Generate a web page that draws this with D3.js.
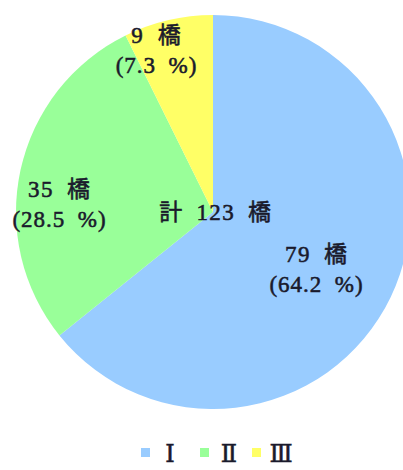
<!DOCTYPE html>
<html>
<head>
<meta charset="utf-8">
<script src="https://cdn.jsdelivr.net/npm/d3@7"></script>
<style>
  html, body { margin: 0; padding: 0; background: #ffffff; }
  svg { display: block; }
  text { font-family: "Liberation Serif", "Times New Roman", "DejaVu Serif", "Noto Sans CJK JP", serif; fill: #1a1a2c; stroke: #1a1a2c; stroke-width: 0.55px; }
</style>
</head>
<body>
<svg id="chart" width="403" height="470"></svg>
<script>
// Bridge counts by soundness rank
const categories = ["Ⅰ", "Ⅱ", "Ⅲ"];
const counts = [79, 35, 9];
const percents = ["64.2", "28.5", "7.3"];
const colors = ["#99ccff", "#99ff99", "#ffff66"];
const totalLabel = "計\u2002123\u2002橋";

const svg = d3.select("#chart");
const cx = 213, cy = 212, radius = 197;

const pie = d3.pie().sort(null).value(d => d.value);
const arc = d3.arc().innerRadius(0).outerRadius(radius);

const data = categories.map((c, i) => ({ cat: c, value: counts[i], pct: percents[i], color: colors[i] }));
const arcs = pie(data);

const g = svg.append("g").attr("transform", `translate(${cx},${cy})`);

g.selectAll("path.slice")
  .data(arcs)
  .join("path")
  .attr("class", "slice")
  .attr("d", arc)
  .attr("fill", d => d.data.color);

// widen glyph spacing a little for the label texts
function spread(sel, k) {
  sel.each(function () {
    const w = this.getComputedTextLength();
    d3.select(this).attr("textLength", w * k).attr("lengthAdjust", "spacing");
  });
}

// label anchor offsets from the pie centre, one per slice
const labelOffsets = [[103, 50], [-154, -15], [-57, -169]];

const lbl = g.selectAll("g.lbl")
  .data(arcs)
  .join("g")
  .attr("class", "lbl")
  .attr("transform", (d, i) => `translate(${labelOffsets[i][0]},${labelOffsets[i][1]})`);

lbl.append("text")
  .attr("class", "lab")
  .attr("text-anchor", "middle")
  .attr("y", 0)
  .attr("font-size", 23)
  .text(d => d.data.value + "\u2002橋");

lbl.append("text")
  .attr("class", "lab")
  .attr("text-anchor", "middle")
  .attr("y", 30)
  .attr("font-size", 23)
  .text(d => "(" + d.data.pct + "\u2002%)");

g.append("text")
  .attr("class", "lab")
  .attr("text-anchor", "middle")
  .attr("x", 2)
  .attr("y", 8)
  .attr("font-size", 23)
  .text(totalLabel);

spread(svg.selectAll("text.lab"), 1.08);

// legend
const legend = svg.append("g").attr("transform", "translate(0,453)");
const legX = [145, 204, 256];
const items = legend.selectAll("g.item")
  .data(data)
  .join("g")
  .attr("class", "item")
  .attr("transform", (d, i) => `translate(${legX[i]},0)`);

items.append("rect")
  .attr("x", -4).attr("y", -5)
  .attr("width", 9).attr("height", 9)
  .attr("fill", d => d.color);

items.append("text")
  .attr("x", 25)
  .attr("y", 9)
  .attr("text-anchor", "middle")
  .attr("font-size", 24)
  .text(d => d.cat);
</script>
</body>
</html>
